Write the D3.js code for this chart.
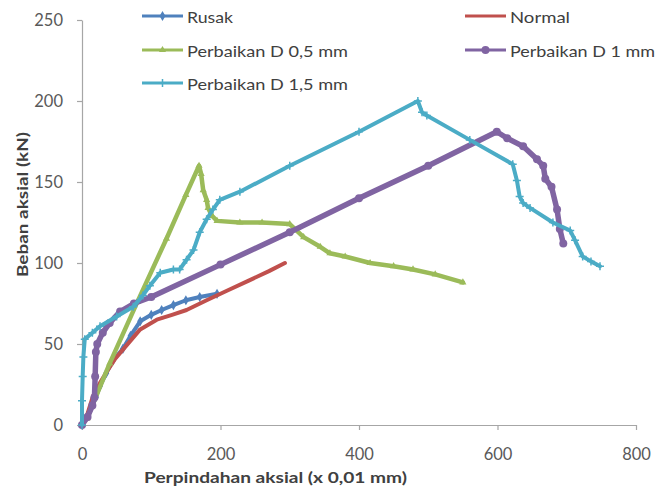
<!DOCTYPE html>
<html><head><meta charset="utf-8">
<script src="https://cdn.jsdelivr.net/npm/d3@7"></script>
<style>
body{margin:0;background:#fff;}
svg{display:block;font-family:Lato, "Open Sans", sans-serif;}
</style></head>
<body><svg id="c" width="658" height="491"></svg>
<script>
const xTicks = [0, 200, 400, 600, 800];
const yTicks = [0, 50, 100, 150, 200, 250];
const seriesNames = ["Rusak", "Normal", "Perbaikan D 0,5 mm", "Perbaikan D 1 mm", "Perbaikan D 1,5 mm"];

const rusak = [[0,0],[5,4],[12,10],[20,17],[26,24],[35,32],[45,40],[59,47],[70,55],[84,64],[100,68],[115,71],[132,74],[150,77],[170,79],[195,81]];
const normal = [[0,0],[8,7],[16,18],[26,26],[36,33],[48,41],[60,47],[72,53],[84,59],[108,65],[130,68],[151,71],[180,77],[210,83],[240,89],[270,95],[293,100]];
const perbaikan05 = [[0,0],[7,4],[40,38],[80,76],[122,115],[150,142],[169,160],[172,155],[175,145],[180,139],[182,134],[188,129],[195,126],[228,125],[260,125],[300,124],[320,116],[344,110],[358,106],[380,104],[416,100],[450,98],[478,96],[510,93],[550,88]];
const perbaikan1 = [[0,0],[8,5],[15,12],[18,17],[19,30],[20,45],[22,50],[30,57],[40,63],[55,70],[75,75],[100,79],[200,99],[300,119],[400,140],[500,160],[599,181],[614,177],[637,172],[657,164],[666,160],[669,152],[678,147],[686,133],[690,121],[695,112]];
const perbaikan15 = [[0,0],[0,15],[1,30],[2,42],[4,53],[15,57],[26,61],[50,67],[74,73],[88,80],[98,86],[113,94],[132,96],[141,96],[151,102],[161,108],[170,119],[180,127],[189,133],[199,139],[228,144],[300,160],[400,181],[485,200],[491,193],[498,191],[560,176],[622,161],[628,151],[632,141],[637,137],[647,134],[680,125],[705,120],[712,114],[723,104],[735,101],[748,98]];

const colors = ["#4F81BD", "#C0504D", "#9BBB59", "#8064A2", "#4BACC6"];
const widths = [4, 4, 4.5, 5.5, 4];
const markers = ["diamond", null, "triangle", "circle", "plus"];
const data = [rusak, normal, perbaikan05, perbaikan1, perbaikan15];

const svg = d3.select("#c");
const x = d3.scaleLinear().domain([0, 800]).range([82, 636]);
const y = d3.scaleLinear().domain([0, 250]).range([425, 20]);

// axes
const gx = svg.append("g").attr("transform", "translate(0,425)")
  .call(d3.axisBottom(x).tickValues(xTicks).tickSize(5).tickSizeOuter(0).tickPadding(18));
const gy = svg.append("g").attr("transform", "translate(82,0)")
  .call(d3.axisLeft(y).tickValues(yTicks).tickSize(5).tickSizeOuter(0).tickPadding(14));
[gx, gy].forEach(g => {
  g.select(".domain").attr("stroke", "#a6a6a6").attr("stroke-width", 1.2);
  g.selectAll(".tick line").attr("stroke", "#a6a6a6").attr("stroke-width", 1.2);
  g.selectAll(".tick text").attr("fill", "#595959").attr("font-size", 16.5).attr("font-family", "Lato, sans-serif");
});

// axis titles
svg.append("text").attr("x", 144).attr("y", 483).attr("font-size", 16).attr("font-weight", "bold")
  .attr("fill", "#404040").attr("textLength", 263).attr("lengthAdjust", "spacingAndGlyphs")
  .text("Perpindahan aksial (x 0,01 mm)");
svg.append("text").attr("transform", "translate(28,204.5) rotate(-90)").attr("text-anchor", "middle")
  .attr("font-size", 16).attr("font-weight", "bold").attr("fill", "#404040")
  .attr("textLength", 145).attr("lengthAdjust", "spacingAndGlyphs").text("Beban aksial (kN)");

const line = d3.line().x(d => x(d[0])).y(d => y(d[1]));

function drawMarker(g, type, cx, cy, color) {
  if (type === "diamond") {
    g.append("path").attr("d", d3.symbol(d3.symbolDiamond, 30)()).attr("transform", `translate(${cx},${cy})`).attr("fill", color);
  } else if (type === "triangle") {
    g.append("path").attr("d", d3.symbol(d3.symbolTriangle, 22)()).attr("transform", `translate(${cx},${cy})`).attr("fill", color);
  } else if (type === "circle") {
    g.append("circle").attr("cx", cx).attr("cy", cy).attr("r", 4).attr("fill", color);
  } else if (type === "plus") {
    g.append("path").attr("d", `M${cx-4},${cy}H${cx+4}M${cx},${cy-4}V${cy+4}`).attr("stroke", color).attr("stroke-width", 1.5);
  }
}

data.forEach((s, i) => {
  const g = svg.append("g");
  g.append("path").datum(s).attr("d", line).attr("fill", "none")
    .attr("stroke", colors[i]).attr("stroke-width", widths[i]).attr("stroke-linejoin", "round").attr("stroke-linecap", "round");
  if (markers[i]) s.forEach(d => drawMarker(g, markers[i], x(d[0]), y(d[1]), colors[i]));
});

// legend
const legendPos = [[142, 16], [465, 16], [142, 50], [465, 50], [142, 83]];
const legendLen = [46, 60, 161, 145, 161];
seriesNames.forEach((n, i) => {
  const [lx, ly] = legendPos[i];
  const g = svg.append("g");
  g.append("line").attr("x1", lx).attr("x2", lx + 41).attr("y1", ly).attr("y2", ly)
    .attr("stroke", colors[i]).attr("stroke-width", 3);
  if (markers[i]) drawMarker(g, markers[i], lx + 20.5, ly, colors[i]);
  g.append("text").attr("x", lx + 45).attr("y", ly + 6.5).attr("font-size", 15).attr("fill", "#404040")
    .attr("textLength", legendLen[i]).attr("lengthAdjust", "spacingAndGlyphs").text(n);
});
</script></body></html>
